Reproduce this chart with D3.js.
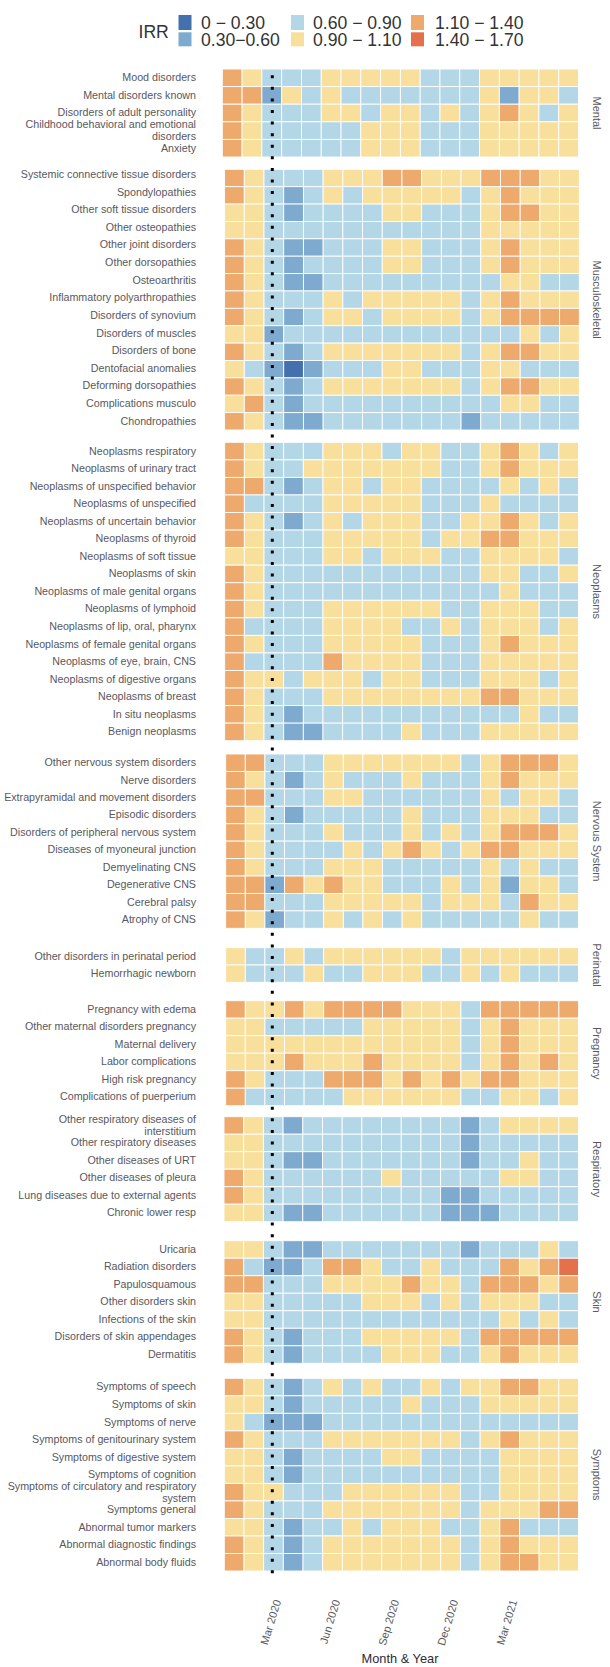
<!DOCTYPE html>
<html>
<head>
<meta charset="utf-8">
<script src="https://cdn.jsdelivr.net/npm/d3@7/dist/d3.min.js"></script>
<style>
html,body{margin:0;padding:0;background:#fff}
svg{display:block;font-family:"Liberation Sans",Arial,sans-serif}
</style>
</head>
<body>
<div id="chart"></div>
<script>
const months = ["Jan 2020","Feb 2020","Mar 2020","Apr 2020","May 2020","Jun 2020","Jul 2020","Aug 2020","Sep 2020","Oct 2020","Nov 2020","Dec 2020","Jan 2021","Feb 2021","Mar 2021","Apr 2021","May 2021","Jun 2021"];
const monthTicks = ["Mar 2020","Jun 2020","Sep 2020","Dec 2020","Mar 2021"];
const markerMonth = "Mar 2020";
const irrBreaks = [0.3,0.6,0.9,1.1,1.4];
const irrLabels = ["0 \u2212 0.30","0.30\u22120.60","0.60 \u2212 0.90","0.90 \u2212 1.10","1.10 \u2212 1.40","1.40 \u2212 1.70"];
const irrColors = ["#4570ae","#7eaacf","#b4d7e8","#f8df9b","#eeaa6d","#e4704c"];

const panelNames = ["Mental","Musculoskeletal","Neoplasms","Nervous System","Perinatal","Pregnancy","Respiratory","Skin","Symptoms"];

const mentalCats = ["Mood disorders","Mental disorders known","Disorders of adult personality","Childhood behavioral and emotional\ndisorders","Anxiety"];
const mentalVals = [
[1.3,1,.8,.8,.8,1,1,1,1,1,.8,.8,.8,1,1,1,1,1],
[1.3,1.3,.5,1,.8,1,.8,.8,.8,.8,.8,.8,.8,1,.5,1,1,.8],
[1.3,1,.8,.8,.8,1,1,.8,1,1,.8,1,.8,1,1.3,1,.8,1],
[1.3,1,.8,.8,.8,.8,.8,1,1,1,.8,.8,.8,1,1,1,1,1],
[1.3,1,.8,.8,.8,.8,.8,1,1,1,.8,.8,.8,1,1,1,1,1]];

const muscCats = ["Systemic connective tissue disorders","Spondylopathies","Other soft tissue disorders","Other osteopathies","Other joint disorders","Other dorsopathies","Osteoarthritis","Inflammatory polyarthropathies","Disorders of synovium","Disorders of muscles","Disorders of bone","Dentofacial anomalies","Deforming dorsopathies","Complications musculo","Chondropathies"];
const muscVals = [
[1.3,1,.8,.8,.8,1,1,1,1.3,1.3,1,1,1,1.3,1.3,1.3,1,1],
[1.3,1,.8,.5,.8,1,.8,1,1,1,1,1,.8,1,1.3,1,1,1],
[1,1,.8,.5,.8,.8,.8,.8,1,1,.8,.8,.8,1,1.3,1.3,1,1],
[1,1,.8,.8,.8,.8,.8,.8,.8,.8,.8,.8,.8,1,1,1,1,1],
[1.3,1,.8,.5,.5,.8,.8,.8,1,1,.8,.8,.8,1,1.3,1,1,1],
[1.3,1,.8,.5,.8,.8,.8,.8,1,1,.8,.8,.8,1,1.3,1,1,1],
[1.3,1,.8,.5,.5,.8,.8,.8,.8,.8,.8,.8,.8,.8,1,1,.8,.8],
[1.3,1,.8,.8,.8,1,.8,1,1,1,1,1,.8,1,1.3,1,1,1],
[1.3,1,.8,.5,.8,1,1,.8,1,1,1,1,.8,1,1.3,1.3,1.3,1.3],
[1,1,.5,.8,.8,.8,.8,.8,.8,.8,.8,.8,.8,.8,.8,1,.8,1],
[1.3,1,.8,.5,.8,1,1,1,1,1,1,1,.8,1,1.3,1.3,1,1],
[1,.8,.5,.2,.5,.8,.8,.8,1,1,.8,.8,.8,1,1,.8,.8,.8],
[1.3,1,.8,.5,.8,1,1,1,1,1,1,1,.8,1,1.3,1.3,1,1],
[1,1.3,.8,.5,.8,.8,.8,.8,.8,.8,.8,.8,.8,.8,1,1,.8,.8],
[1.3,1,.8,.5,.5,.8,.8,.8,.8,.8,.8,.8,.5,.8,.8,.8,.8,.8]];

const neoCats = ["Neoplasms respiratory","Neoplasms of urinary tract","Neoplasms of unspecified behavior","Neoplasms of unspecified","Neoplasms of uncertain behavior","Neoplasms of thyroid","Neoplasms of soft tissue","Neoplasms of skin","Neoplasms of male genital organs","Neoplasms of lymphoid","Neoplasms of lip, oral, pharynx","Neoplasms of female genital organs","Neoplasms of eye, brain, CNS","Neoplasms of digestive organs","Neoplasms of breast","In situ neoplasms","Benign neoplasms"];
const neoVals = [
[1.3,1,.8,.8,.8,1,1,1,.8,1,1,.8,.8,1,1.3,1,.8,1],
[1.3,1,.8,.8,1,1,1,1,1,1,1,.8,.8,1,1.3,1,1,1],
[1.3,1.3,.8,.5,.8,1,1,.8,1,1,.8,.8,.8,.8,1,.8,1,.8],
[1.3,.8,.8,.8,.8,1,1,1,1,1,.8,.8,.8,1,.8,.8,.8,.8],
[1.3,1,.8,.5,.8,1,.8,1,1,1,.8,.8,1,1,1.3,1,.8,1],
[1.3,1,.8,.8,.8,1,1,1,1,1,.8,1,1,1.3,1.3,1,1,1],
[1,1,.8,.8,.8,1,1,.8,1,1,1,.8,.8,1,1,1,1,.8],
[1.3,1,.8,.8,.8,.8,.8,.8,.8,.8,.8,.8,.8,1,1,.8,.8,1],
[1.3,1,.8,.8,.8,.8,.8,.8,.8,.8,.8,.8,.8,.8,1,.8,.8,.8],
[1.3,1,.8,.8,.8,1,1,1,1,1,1,.8,.8,1,1,1,.8,.8],
[1.3,.8,.8,.8,.8,1,1,1,1,.8,.8,1,.8,1,1,1,.8,1],
[1.3,1,.8,.8,.8,1,1,1,1,1,.8,.8,.8,1,1.3,1,1,1],
[1.3,.8,.8,.8,.8,1.3,1,1,1,1,.8,.8,.8,1,1,1,1,1],
[1.3,1,1,.8,1,1,1,.8,1,1,.8,.8,.8,1,1,1,.8,1],
[1.3,1,.8,.8,.8,1,1,1,1,1,1,1,1,1.3,1.3,1,1,1],
[1.3,1,.8,.5,.8,.8,.8,.8,.8,.8,.8,.8,.8,.8,.8,1,.8,.8],
[1.3,1,.8,.5,.5,.8,.8,.8,.8,1,.8,.8,.8,1,1,1,1,1]];

const nervCats = ["Other nervous system disorders","Nerve disorders","Extrapyramidal and movement disorders","Episodic disorders","Disorders of peripheral nervous system","Diseases of myoneural junction","Demyelinating CNS","Degenerative CNS","Cerebral palsy","Atrophy of CNS"];
const nervVals = [
[1.3,1.3,.8,.8,.8,1,1,1,1,1,1,1,.8,1,1.3,1.3,1.3,1],
[1.3,1,.8,.5,.8,1,.8,.8,.8,1,.8,.8,.8,1,1.3,1,1,1],
[1.3,1.3,.8,.8,.8,1,1,.8,.8,.8,.8,.8,.8,1,.8,1,1,.8],
[1.3,1,.8,.5,.8,.8,.8,.8,.8,1,.8,.8,.8,1,1,1,.8,.8],
[1.3,1,.8,.8,.8,1,.8,.8,.8,1,.8,1,.8,1,1.3,1.3,1.3,1],
[1.3,1,.8,.8,.8,.8,1,.8,1,1.3,1,.8,1,1.3,1.3,1,1,1],
[1.3,1,.8,.8,.8,1,1,1,.8,.8,.8,.8,.8,1,.8,1,.8,.8],
[1.3,1.3,.5,1.3,1,1.3,1,1,.8,.8,.8,1,.8,1,.5,1,1,.8],
[1.3,1.3,.8,.8,.8,1,1,1,1,1,.8,1,1,1,.8,1.3,1,1],
[1.3,1,.5,.8,.8,1,.8,1,.8,1,.8,.8,.8,.8,.8,1,.8,.8]];

const periCats = ["Other disorders in perinatal period","Hemorrhagic newborn"];
const periVals = [
[1,.8,.8,1,.8,1,1,1,1,1,1,.8,1,1,1,1,1,1],
[1,.8,.8,.8,1,.8,.8,1,1,1,.8,.8,1,.8,1,.8,.8,.8]];

const pregCats = ["Pregnancy with edema","Other maternal disorders pregnancy","Maternal delivery","Labor complications","High risk pregnancy","Complications of puerperium"];
const pregVals = [
[1.3,1,1,1.3,1,1.3,1.3,1.3,1.3,1,1,1,.8,1.3,1.3,1.3,1.3,1.3],
[1,1,.8,.8,.8,.8,.8,1,1,1,1,1,.8,1,1.3,1,1,1],
[1,1,1,1,1,1,1,1,1,1,1,1,.8,1,1.3,1,1,1],
[1,1,1,1.3,1,1,1,1.3,1,1,1,1,.8,1,1.3,1,1.3,1],
[1.3,1,.8,.8,.8,1.3,1.3,1.3,1,1.3,1,1.3,1,1.3,1.3,1,1,1],
[1.3,.8,.8,.8,.8,.8,1,1,1,1,1,1,.8,.8,1,1,.8,1]];

const respCats = ["Other respiratory diseases of\ninterstitium","Other respiratory diseases","Other diseases of URT","Other diseases of pleura","Lung diseases due to external agents","Chronic lower resp"];
const respVals = [
[1.3,1,.8,.5,.8,.8,.8,.8,.8,.8,.8,.8,.5,.8,1,1,1,1],
[1,1,.8,.8,.8,.8,.8,.8,.8,.8,.8,.8,.5,.8,.8,.8,.8,.8],
[1,1,.8,.5,.5,.8,.8,.8,.8,.8,.8,.8,.5,.8,.8,1,.8,.8],
[1.3,1,.8,.8,.8,.8,.8,.8,1,.8,.8,.8,.8,.8,1,1,.8,.8],
[1.3,1,.8,.8,.8,.8,.8,.8,.8,.8,.8,.5,.5,.8,.8,.8,.8,.8],
[1,1,.8,.5,.5,.8,.8,.8,.8,.8,.8,.5,.5,.5,.8,.8,.8,.8]];

const skinCats = ["Uricaria","Radiation disorders","Papulosquamous","Other disorders skin","Infections of the skin","Disorders of skin appendages","Dermatitis"];
const skinVals = [
[1,1,.8,.5,.5,.8,.8,.8,.8,.8,.8,.8,.5,.8,.8,.8,1,.8],
[1.3,.8,.5,.5,.8,1.3,1.3,1,.8,.8,1,.8,.8,.8,1.3,1,1.3,1.5],
[1.3,1.3,.8,.8,.8,1,1,1,1,1.3,1,1,.8,1.3,1.3,1.3,1,1.3],
[1,1,.8,.8,.8,.8,.8,1,1,1,.8,1,.8,1,1,1,.8,.8],
[1,1,.8,.8,.8,.8,.8,.8,.8,.8,.8,.8,.8,.8,1,.8,1,.8],
[1.3,1,.8,.5,.8,.8,.8,1,1,1,1,1,.8,1.3,1.3,1.3,1.3,1.3],
[1.3,1,.8,.5,.8,.8,.8,.8,1,1,1,.8,.8,1,1.3,1,1,1]];

const sympCats = ["Symptoms of speech","Symptoms of skin","Symptoms of nerve","Symptoms of genitourinary system","Symptoms of digestive system","Symptoms of cognition","Symptoms of circulatory and respiratory\nsystem","Symptoms general","Abnormal tumor markers","Abnormal diagnostic findings","Abnormal body fluids"];
const sympVals = [
[1.3,1,.8,.5,.8,1,.8,1,.8,.8,1,.8,1,1,1.3,1.3,1,1],
[1,1,.8,.5,.8,.8,.8,.8,.8,1,.8,.8,.8,1,1,1,1,1],
[1,.8,.5,.5,.5,.8,.8,.8,.8,.8,.8,.8,.8,.8,.8,.8,.8,.8],
[1.3,1,.8,.8,.8,1,1,1,1,1,1,1,.8,1,1.3,1,1,1],
[1,1,.8,.5,.8,.8,.8,.8,1,1,.8,.8,.8,.8,1,1,1,1],
[1,1,.8,.5,.8,.8,.8,.8,.8,.8,.8,.8,.8,.8,1,1,1,1],
[1.3,1,1,.8,.8,.8,1,1,1,1,1,1,.8,.8,1,1,1,1],
[1.3,1,.8,.8,.8,1,1,1,1,1,1,1,.8,1,1,1,1.3,1.3],
[1,1,.8,.5,.8,.8,1,.8,1,1,1,.8,.8,1,1.3,.8,.8,.8],
[1.3,1,.8,.5,.8,1,1,1,1,1,1,1,.8,1,1.3,1,1,1],
[1.3,1,.8,.5,.8,1,1,1,1,1,1,1,.8,1,1.3,1.3,1,1]];

const panelCats = [mentalCats,muscCats,neoCats,nervCats,periCats,pregCats,respCats,skinCats,sympCats];
const panelVals = [mentalVals,muscVals,neoVals,nervVals,periVals,pregVals,respVals,skinVals,sympVals];

// layout only: [left, right, top, bottom] of each panel, and the label span
const panelBox = [
[222.3,578.5,69,157],[224.6,579.3,169.3,430],[224.7,578.5,442.3,740.7],
[225.7,578.5,754,928.3],[225.7,578.5,947.7,982.3],[225.7,578.5,1000.7,1105.7],
[224,578.5,1116.7,1221.7],[224,578.5,1240.7,1363.3],[224.3,578.5,1378.3,1571]];
const labelTop = [69,165.7,442.3,754,947.7,1000.7,1116.7,1240.7,1378.3];

const W=610,H=1667;
const color = d3.scaleThreshold().domain(irrBreaks).range(irrColors);
const svg = d3.select("#chart").append("svg").attr("width",W).attr("height",H).attr("viewBox",[0,0,W,H]);

panelNames.forEach((name,p)=>{
  const [l,r,t,b]=panelBox[p];
  const x=d3.scaleBand().domain(months).range([l,r]);
  const y=d3.scaleBand().domain(panelCats[p]).range([t,b]);
  const yLab=d3.scaleBand().domain(panelCats[p]).range([labelTop[p],b]);
  const g=svg.append("g").attr("class","panel");
  panelVals[p].forEach((row,i)=>{
    g.append("g").selectAll("rect").data(row).join("rect")
      .attr("x",(d,j)=>x(months[j]))
      .attr("y",y(panelCats[p][i]))
      .attr("width",x.bandwidth())
      .attr("height",y.bandwidth())
      .attr("fill",d=>color(d))
      .attr("stroke","#fff").attr("stroke-width",0.9);
  });
  const ax=svg.append("g").attr("transform",`translate(196,0)`)
    .call(d3.axisLeft(yLab).tickSize(0).tickPadding(0));
  ax.select(".domain").remove();
  ax.selectAll("text").attr("font-size",10.7).attr("fill","#58585e").attr("font-family","inherit")
    .each(function(d){
      const parts=d.split("\n"), s=d3.select(this);
      if(parts.length>1){
        s.text(null).attr("dy",null);
        parts.forEach((q,k)=>s.append("tspan").attr("x",0).attr("y",(k-0.5)*12.2).attr("dy","0.35em").text(q));
      }
    });
  svg.append("text")
    .attr("transform",`translate(596.5,${(t+b)/2}) rotate(90)`)
    .attr("text-anchor","middle").attr("dy","0.35em")
    .attr("font-size",11).attr("fill","#58585e").text(name);
});

// dotted reference line at the first pandemic month
const xMain=d3.scaleBand().domain(months).range([224.3,578.5]);
const mx=xMain(markerMonth)+xMain.bandwidth()/2-1.2;
svg.append("line").attr("x1",mx).attr("x2",mx).attr("y1",75.2).attr("y2",1574)
  .attr("stroke","#000").attr("stroke-width",3).attr("stroke-dasharray","3 8.59");

// month axis
const axisG=svg.append("g").attr("transform","translate(0,1600)")
  .call(d3.axisBottom(xMain).tickValues(monthTicks).tickSize(0).tickPadding(0));
axisG.select(".domain").remove();
axisG.selectAll("text").attr("font-size",11).attr("fill","#58585e").attr("font-family","inherit")
  .attr("y",0).attr("dy","0.35em").attr("text-anchor","end")
  .attr("transform","translate(4,0) rotate(-73)");
svg.append("text").attr("x",400).attr("y",1662.5).attr("text-anchor","middle")
  .attr("font-size",12.8).attr("fill","#2b2b3a").text("Month & Year");

// legend
svg.append("text").attr("x",138.5).attr("y",37.5).attr("font-size",17.6).attr("fill","#333").text("IRR");
const legX=[178.5,291,411], legTxt=[201,313,435], legY=[15,32.3], swH=[15,14];
irrColors.forEach((c,i)=>{
  const col=Math.floor(i/2), row=i%2;
  svg.append("rect").attr("x",legX[col]).attr("y",legY[row]).attr("width",13).attr("height",swH[row]).attr("fill",c);
  svg.append("text").attr("x",legTxt[col]).attr("y",legY[row]+13.5).attr("font-size",17.6).attr("fill","#333").text(irrLabels[i]);
});
</script>
</body>
</html>
